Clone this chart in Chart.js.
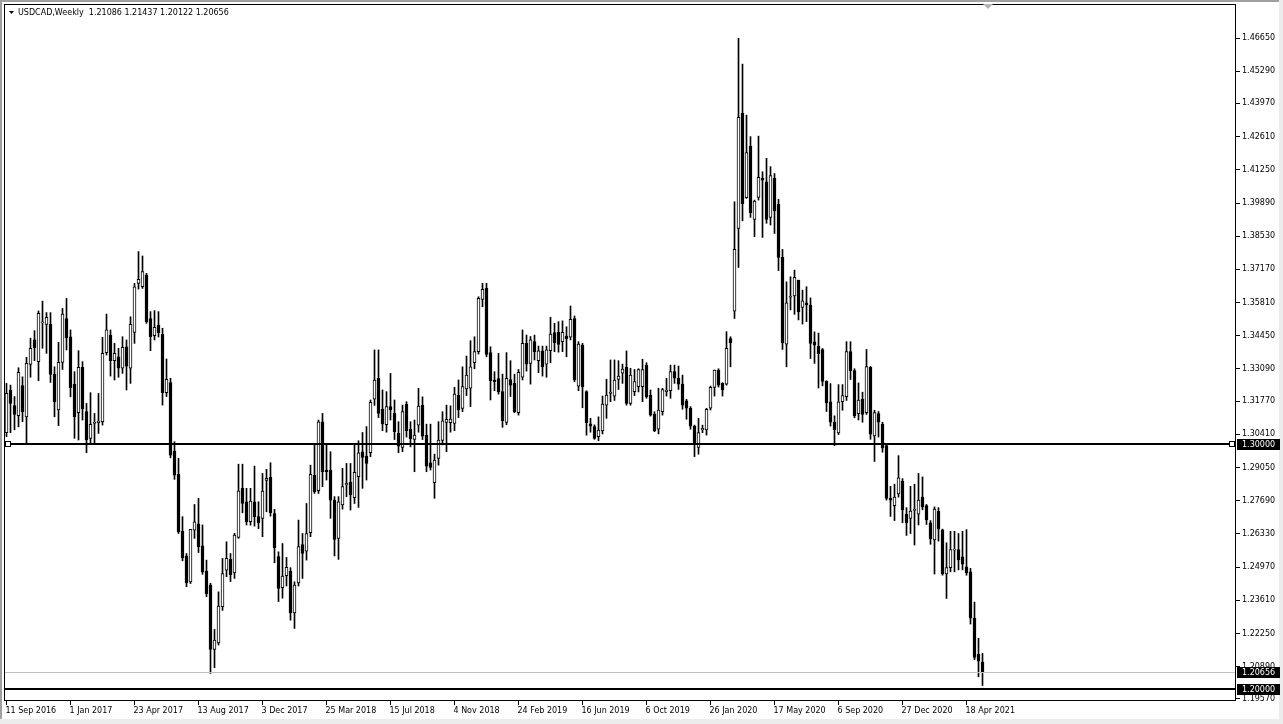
<!DOCTYPE html>
<html>
<head>
<meta charset="utf-8">
<title>USDCAD Weekly</title>
<script src="https://cdn.jsdelivr.net/npm/chart.js@4.4.1/dist/chart.umd.min.js"></script>
<style>
  html, body { margin: 0; padding: 0; background: #ffffff; }
  #chart { display: block; }
</style>
</head>
<body>
<canvas id="chart" width="1283" height="724"></canvas>
<script>
// USDCAD weekly candles, week of 11 Sep 2016 up to week of 16 May 2021
const opens = [
  1.3048,1.3223,1.3159,1.3118,1.3241,1.3113,1.3328,1.3428,1.3339,1.3498,
  1.3492,1.3492,1.3287,1.3141,1.3336,1.3516,1.3441,1.3246,1.3130,1.3316,
  1.3134,1.3025,1.3086,1.3089,1.3093,1.3376,1.3448,1.3343,1.3359,1.3312,
  1.3400,1.3312,1.3459,1.3660,1.3646,1.3694,1.3516,1.3445,1.3489,1.3451,
  1.3212,1.3253,1.2973,1.2877,1.2645,1.2543,1.2437,1.2649,1.2674,1.2584,
  1.2481,1.2424,1.2160,1.2187,1.2335,1.2485,1.2529,1.2474,1.2619,1.2820,
  1.2765,1.2683,1.2765,1.2704,1.2697,1.2852,1.2865,1.2717,1.2540,1.2413,
  1.2462,1.2481,1.2310,1.2433,1.2590,1.2563,1.2638,1.2874,1.2810,1.3093,
  1.2895,1.2895,1.2772,1.2615,1.2752,1.2834,1.2845,1.2782,1.2868,1.2970,
  1.2952,1.2966,1.3185,1.3271,1.3145,1.3081,1.3155,1.3127,1.3045,1.2988,
  1.3164,1.3062,1.3020,1.3079,1.3161,1.3038,1.2925,1.2843,1.2943,1.3016,
  1.3090,1.3089,1.3086,1.3202,1.3147,1.3227,1.3230,1.3335,1.3380,1.3594,
  1.3639,1.3376,1.3264,1.3270,1.3216,1.3090,1.3266,1.3250,1.3130,1.3275,
  1.3414,1.3332,1.3421,1.3343,1.3383,1.3329,1.3384,1.3458,1.3460,1.3421,
  1.3444,1.3439,1.3516,1.3239,1.3407,1.3216,1.3084,1.3073,1.3032,1.3055,
  1.3161,1.3209,1.3198,1.3266,1.3292,1.3316,1.3168,1.3216,1.3237,1.3237,
  1.3325,1.3202,1.3124,1.3062,1.3134,1.3216,1.3220,1.3298,1.3271,1.3247,
  1.3179,1.3148,1.3075,1.2988,1.3059,1.3059,1.3148,1.3234,1.3305,1.3250,
  1.3247,1.3434,1.3546,1.3885,1.4356,1.4011,1.4222,1.3922,1.4012,1.4090,
  1.4076,1.3930,1.4090,1.3985,1.3766,1.3411,1.3603,1.3608,1.3673,1.3561,
  1.3580,1.3571,1.3420,1.3403,1.3389,1.3258,1.3174,1.3091,1.3047,1.3175,
  1.3196,1.3380,1.3302,1.3126,1.3186,1.3130,1.3316,1.3035,1.3126,1.3082,
  1.2995,1.2779,1.2749,1.2797,1.2849,1.2714,1.2697,1.2730,1.2714,1.2784,
  1.2749,1.2679,1.2609,1.2727,1.2650,1.2469,1.2495,1.2567,1.2569,1.2539,
  1.2498,1.2478,1.2288,1.2140,1.21086
];
const highs = [
  1.3250,1.3243,1.3196,1.3314,1.3277,1.3357,1.3435,1.3466,1.3547,1.3587,
  1.3540,1.3540,1.3318,1.3418,1.3557,1.3598,1.3469,1.3298,1.3384,1.3339,
  1.3168,1.3212,1.3127,1.3209,1.3439,1.3534,1.3469,1.3414,1.3394,1.3441,
  1.3428,1.3523,1.3660,1.3790,1.3772,1.3701,1.3544,1.3548,1.3544,1.3476,
  1.3350,1.3271,1.3011,1.2943,1.2704,1.2553,1.2652,1.2754,1.2779,1.2670,
  1.2526,1.2431,1.2242,1.2396,1.2533,1.2601,1.2553,1.2636,1.2919,1.2919,
  1.2820,1.2820,1.2911,1.2765,1.2881,1.2898,1.2925,1.2734,1.2560,1.2594,
  1.2537,1.2495,1.2437,1.2690,1.2635,1.2758,1.2915,1.3004,1.3100,1.3127,
  1.3004,1.2970,1.2786,1.2786,1.2902,1.2922,1.2922,1.3004,1.3015,1.3049,
  1.3073,1.3182,1.3387,1.3387,1.3223,1.3216,1.3291,1.3182,1.3093,1.3161,
  1.3175,1.3093,1.3100,1.3230,1.3195,1.3083,1.3083,1.2960,1.3093,1.3134,
  1.3161,1.3158,1.3234,1.3264,1.3318,1.3362,1.3425,1.3441,1.3605,1.3660,
  1.3660,1.3400,1.3298,1.3373,1.3288,1.3376,1.3343,1.3288,1.3307,1.3469,
  1.3448,1.3442,1.3448,1.3403,1.3403,1.3403,1.3521,1.3496,1.3503,1.3506,
  1.3482,1.3567,1.3526,1.3421,1.3414,1.3220,1.3107,1.3080,1.3113,1.3198,
  1.3267,1.3346,1.3346,1.3343,1.3329,1.3383,1.3312,1.3307,1.3310,1.3349,
  1.3335,1.3223,1.3134,1.3230,1.3230,1.3271,1.3325,1.3325,1.3321,1.3284,
  1.3185,1.3155,1.3079,1.3107,1.3079,1.3148,1.3239,1.3305,1.3310,1.3253,
  1.3462,1.3441,1.3994,1.4664,1.4558,1.4349,1.4261,1.4001,1.4263,1.4117,
  1.4172,1.4138,1.4110,1.4004,1.3799,1.3666,1.3687,1.3714,1.3673,1.3632,
  1.3646,1.3600,1.3461,1.3456,1.3393,1.3261,1.3249,1.3117,1.3245,1.3245,
  1.3421,1.3421,1.3310,1.3252,1.3214,1.3389,1.3319,1.3140,1.3135,1.3091,
  1.3003,1.2828,1.2837,1.2954,1.2860,1.2741,1.2828,1.2837,1.2881,1.2867,
  1.2754,1.2688,1.2744,1.2741,1.2653,1.2597,1.2644,1.2644,1.2635,1.2644,
  1.2651,1.2492,1.2354,1.2206,1.21437
];
const lows = [
  1.3032,1.3048,1.3060,1.3072,1.3093,1.3004,1.3275,1.3343,1.3261,1.3394,
  1.3373,1.3254,1.3113,1.3077,1.3307,1.3387,1.3195,1.3025,1.3018,1.3100,
  1.2966,1.3007,1.3007,1.3045,1.3079,1.3366,1.3280,1.3264,1.3275,1.3291,
  1.3223,1.3250,1.3414,1.3636,1.3639,1.3496,1.3384,1.3428,1.3440,1.3161,
  1.3196,1.2945,1.2857,1.2635,1.2523,1.2417,1.2430,1.2615,1.2557,1.2468,
  1.2376,1.2062,1.2085,1.2178,1.2320,1.2458,1.2438,1.2451,1.2615,1.2720,
  1.2670,1.2669,1.2665,1.2655,1.2622,1.2724,1.2706,1.2515,1.2356,1.2370,
  1.2420,1.2280,1.2246,1.2420,1.2451,1.2526,1.2622,1.2799,1.2799,1.2827,
  1.2854,1.2697,1.2543,1.2529,1.2735,1.2786,1.2731,1.2758,1.2742,1.2820,
  1.2854,1.2950,1.3160,1.3110,1.3056,1.3050,1.3100,1.3020,1.2966,1.2970,
  1.3030,1.2990,1.2888,1.3050,1.3020,1.2888,1.2895,1.2779,1.2915,1.2998,
  1.2970,1.3050,1.3056,1.3110,1.3134,1.3200,1.3155,1.3310,1.3370,1.3564,
  1.3359,1.3182,1.3220,1.3206,1.3070,1.3081,1.3196,1.3130,1.3120,1.3264,
  1.3300,1.3247,1.3346,1.3294,1.3280,1.3275,1.3335,1.3380,1.3378,1.3380,
  1.3359,1.3428,1.3257,1.3220,1.3150,1.3038,1.3050,1.3021,1.3015,1.3043,
  1.3107,1.3175,1.3180,1.3225,1.3250,1.3161,1.3161,1.3200,1.3215,1.3175,
  1.3189,1.3116,1.3052,1.3043,1.3120,1.3198,1.3189,1.3250,1.3225,1.3144,
  1.3103,1.3062,1.2950,1.2960,1.3048,1.3038,1.3141,1.3198,1.3235,1.3198,
  1.3243,1.3318,1.3516,1.3725,1.3916,1.4008,1.3930,1.3851,1.4001,1.3848,
  1.3906,1.3899,1.3864,1.3712,1.3389,1.3318,1.3551,1.3533,1.3510,1.3493,
  1.3503,1.3352,1.3332,1.3231,1.3240,1.3135,1.3075,1.2995,1.3040,1.3140,
  1.3180,1.3266,1.3109,1.3100,1.3091,1.3123,1.3021,1.2930,1.3030,1.2968,
  1.2772,1.2705,1.2688,1.2784,1.2679,1.2627,1.2635,1.2588,1.2670,1.2732,
  1.2672,1.2591,1.2469,1.2604,1.2464,1.2369,1.2478,1.2478,1.2486,1.2486,
  1.2464,1.2264,1.2118,1.2048,1.20122
];
const closes = [
  1.3209,1.3168,1.3123,1.3295,1.3134,1.3332,1.3394,1.3396,1.3537,1.3502,
  1.3521,1.3287,1.3175,1.3336,1.3534,1.3437,1.3232,1.3113,1.3316,1.3145,
  1.3018,1.3082,1.3090,1.3096,1.3373,1.3469,1.3343,1.3373,1.3312,1.3398,
  1.3321,1.3492,1.3646,1.3676,1.3708,1.3503,1.3441,1.3480,1.3458,1.3212,
  1.3267,1.2956,1.2874,1.2642,1.2536,1.2433,1.2652,1.2683,1.2581,1.2478,
  1.2389,1.2160,1.2198,1.2338,1.2471,1.2533,1.2465,1.2629,1.2810,1.2758,
  1.2683,1.2768,1.2704,1.2679,1.2809,1.2861,1.2720,1.2577,1.2410,1.2461,
  1.2496,1.2310,1.2424,1.2581,1.2553,1.2635,1.2877,1.2806,1.3093,1.2888,
  1.2888,1.2772,1.2611,1.2765,1.2827,1.2841,1.2793,1.2886,1.2966,1.2947,
  1.2922,1.3172,1.3264,1.3127,1.3084,1.3155,1.3141,1.3052,1.2993,1.3134,
  1.3056,1.3024,1.3038,1.3157,1.3034,1.2911,1.2906,1.2936,1.3018,1.3097,
  1.3103,1.3104,1.3206,1.3141,1.3237,1.3284,1.3318,1.3380,1.3598,1.3635,
  1.3369,1.3261,1.3257,1.3216,1.3097,1.3271,1.3243,1.3134,1.3295,1.3414,
  1.3329,1.3428,1.3380,1.3383,1.3318,1.3387,1.3452,1.3417,1.3410,1.3459,
  1.3433,1.3512,1.3264,1.3411,1.3236,1.3089,1.3075,1.3025,1.3059,1.3165,
  1.3202,1.3214,1.3264,1.3280,1.3309,1.3168,1.3284,1.3257,1.3307,1.3307,
  1.3196,1.3120,1.3056,1.3141,1.3225,1.3223,1.3298,1.3271,1.3247,1.3161,
  1.3148,1.3075,1.3002,1.3048,1.3066,1.3144,1.3234,1.3305,1.3243,1.3223,
  1.3394,1.3417,1.3799,1.4340,1.3985,1.4196,1.3949,1.3997,1.4094,1.4083,
  1.3922,1.4101,1.3957,1.3766,1.3416,1.3580,1.3607,1.3684,1.3543,1.3588,
  1.3571,1.3414,1.3407,1.3372,1.3258,1.3170,1.3091,1.3060,1.3174,1.3200,
  1.3380,1.3302,1.3117,1.3182,1.3123,1.3319,1.3042,1.3130,1.3091,1.2986,
  1.2779,1.2772,1.2784,1.2863,1.2732,1.2679,1.2727,1.2734,1.2772,1.2744,
  1.2691,1.2613,1.2735,1.2653,1.2469,1.2495,1.2569,1.2571,1.2527,1.2509,
  1.2474,1.2288,1.2127,1.2112,1.20656
];

// date labels under the chart, one every 16 weeks
const xTickLabels = ['11 Sep 2016','1 Jan 2017','23 Apr 2017','13 Aug 2017','3 Dec 2017','25 Mar 2018',
  '15 Jul 2018','4 Nov 2018','24 Feb 2019','16 Jun 2019','6 Oct 2019','26 Jan 2020','17 May 2020',
  '6 Sep 2020','27 Dec 2020','18 Apr 2021'];
const weeksPerLabel = 16;

// price scale labels (bottom to top)
const yTickLabels = ['1.19570','1.20890','1.22250','1.23610','1.24970','1.26330','1.27690','1.29050',
  '1.30410','1.31770','1.33090','1.34450','1.35810','1.37170','1.38530','1.39890','1.41250','1.42610',
  '1.43970','1.45290','1.46650'];

const hLines = [1.30000, 1.20000];   // drawn horizontal levels
const bidPrice = 1.20656;             // last price line
const symbolName = 'USDCAD,Weekly';

const idx = closes.map((_, i) => i);
const bodyData = idx.map(i => ({ x: i, y: [opens[i], closes[i]] }));
const wickData = idx.map(i => ({ x: i, y: [lows[i], highs[i]] }));
const bodyFill = idx.map(i => closes[i] >= opens[i] ? '#ffffff' : '#000000');

const FONT = { family: 'DejaVu Sans', size: 8 };

// frame, levels, price boxes and header text in the MT4 look
const mtLook = {
  id: 'mtLook',
  beforeDraw(chart) {
    const c = chart.ctx, w = chart.width, h = chart.height;
    c.save();
    c.fillStyle = '#ffffff';
    c.fillRect(0, 0, w, h);
    c.fillStyle = '#a0a0a0';
    c.fillRect(0, 0, w, 2);
    c.fillRect(0, 0, 2, h);
    c.fillStyle = '#ececec';
    c.fillRect(w - 4, 0, 4, h);
    c.fillRect(0, h - 5, w, 5);
    c.restore();
  },
  afterDatasetsDraw(chart) {
    const c = chart.ctx, a = chart.chartArea, y = chart.scales.y;
    c.save();
    // bid line
    let py = Math.round(y.getPixelForValue(bidPrice)) + 0.5;
    c.strokeStyle = '#c0c0c0';
    c.lineWidth = 1;
    c.beginPath(); c.moveTo(a.left, py); c.lineTo(a.right, py); c.stroke();
    // horizontal levels
    c.strokeStyle = '#000000';
    c.lineWidth = 2;
    hLines.forEach(v => {
      const p = Math.round(y.getPixelForValue(v));
      c.beginPath(); c.moveTo(a.left, p); c.lineTo(a.right, p); c.stroke();
    });
    // selection squares on the first level
    const p0 = Math.round(y.getPixelForValue(hLines[0]));
    c.lineWidth = 1;
    c.fillStyle = '#ffffff';
    [a.left + 1, a.right - 7].forEach(x => {
      c.fillRect(x, p0 - 3, 5, 5);
      c.strokeRect(x + 0.5, p0 - 2.5, 5, 5);
    });
    c.restore();
  },
  afterDraw(chart) {
    const c = chart.ctx, a = chart.chartArea, y = chart.scales.y;
    c.save();
    // chart frame
    c.strokeStyle = '#000000';
    c.lineWidth = 1;
    c.strokeRect(a.left + 0.5, a.top + 0.5, a.right - a.left - 1, a.bottom - a.top - 1);
    // price boxes on the axis
    c.font = FONT.size + 'px "' + FONT.family + '"';
    c.textBaseline = 'middle';
    c.textAlign = 'left';
    [hLines[0], bidPrice, hLines[1]].forEach(v => {
      const p = Math.round(y.getPixelForValue(v));
      c.fillStyle = '#000000';
      c.fillRect(a.right + 1, p - 5, 43, 11);
      c.fillStyle = '#ffffff';
      c.fillText(v.toFixed(5), a.right + 6, p + 0.5);
    });
    // header
    const last = closes.length - 1;
    c.fillStyle = '#000000';
    c.beginPath(); c.moveTo(9, 11); c.lineTo(14, 11); c.lineTo(11.5, 14); c.closePath(); c.fill();
    c.fillText(symbolName + '  ' + [opens[last], highs[last], lows[last], closes[last]]
      .map(v => v.toFixed(5)).join(' '), 18, 13);
    // chart shift marker
    c.fillStyle = '#b4b4b4';
    c.beginPath(); c.moveTo(983, a.top); c.lineTo(993, a.top); c.lineTo(988, a.top + 5); c.closePath(); c.fill();
    c.restore();
  }
};

new Chart(document.getElementById('chart'), {
  type: 'bar',
  data: {
    datasets: [
      {
        label: 'body',
        data: bodyData,
        backgroundColor: bodyFill,
        borderColor: '#000000',
        borderWidth: 1,
        borderSkipped: false,
        barThickness: 3,
        minBarLength: 1,
        grouped: false
      },
      {
        label: 'wick',
        data: wickData,
        backgroundColor: '#000000',
        borderWidth: 0,
        barThickness: 1,
        grouped: false
      }
    ]
  },
  options: {
    responsive: false,
    animation: false,
    devicePixelRatio: 1,
    layout: { padding: { left: 4, top: 4, right: 0, bottom: 0 } },
    plugins: {
      legend: { display: false },
      tooltip: { enabled: false }
    },
    scales: {
      x: {
        type: 'linear',
        min: -0.625,
        max: 307.375,
        offset: false,
        border: { display: false },
        grid: { offset: false, drawOnChartArea: false, drawTicks: true, tickLength: 4, color: '#000000' },
        ticks: {
          autoSkip: false,
          maxRotation: 0,
          minRotation: 0,
          align: 'start',
          labelOffset: -1,
          padding: 1,
          color: '#000000',
          font: FONT,
          callback: (v, i) => xTickLabels[i]
        },
        afterBuildTicks: s => { s.ticks = xTickLabels.map((_, k) => ({ value: k * weeksPerLabel })); },
        afterFit: s => { s.height = 23; s.paddingLeft = 0; s.paddingRight = 0; }
      },
      y: {
        position: 'right',
        min: 1.19488,
        max: 1.48043,
        border: { display: false },
        grid: { drawOnChartArea: false, drawTicks: true, tickLength: 4, color: '#000000' },
        ticks: {
          padding: 2,
          color: '#000000',
          font: FONT,
          callback: (v, i) => yTickLabels[i]
        },
        afterBuildTicks: s => { s.ticks = yTickLabels.map(t => ({ value: parseFloat(t) })); },
        afterFit: s => { s.width = 47; s.paddingTop = 0; s.paddingBottom = 0; }
      }
    }
  },
  plugins: [mtLook]
});
</script>
</body>
</html>
